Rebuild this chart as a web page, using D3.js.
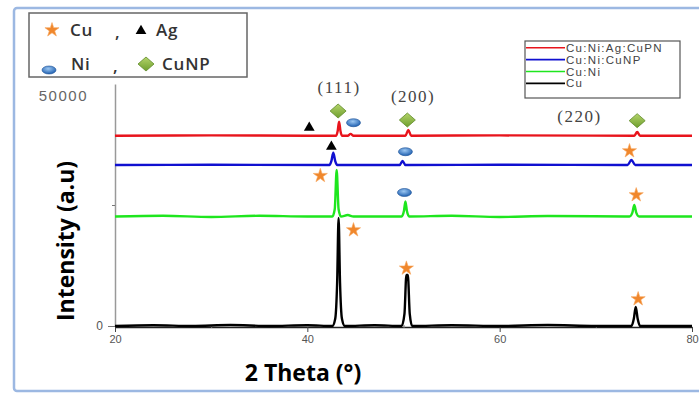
<!DOCTYPE html>
<html>
<head>
	<meta charset="utf-8">
	<title>XRD patterns</title>
	<style>
		body{ margin:0; background:white; }
		svg{ display:block; }
		.tick text{ font-family:"Liberation Sans",Arial,sans-serif; font-size:11px; fill:#555; }
		.lg1{ font-family:"Open Sans",sans-serif; font-size:17px; font-weight:600; fill:#333; letter-spacing:0.8px; }
		.lg2{ font-family:"Liberation Sans",Arial,sans-serif; font-size:11.5px; fill:#444; letter-spacing:1.3px; }
		.hkl{ font-family:"Liberation Serif","Times New Roman",serif; font-size:17px; fill:#444; letter-spacing:1.5px; }
		.atitle{ font-family:"Open Sans",sans-serif; font-size:23px; font-weight:bold; fill:#000; }
	</style>
	<script src="https://cdn.jsdelivr.net/npm/d3@7"></script>
</head>
<body>
<svg width="699" height="394"></svg>
<script>
// series names / colours (legend order)
var names = ["Cu:Ni:Ag:CuPN", "Cu:Ni:CuNP", "Cu:Ni", "Cu"];
var colors = ["#e8141c", "#1010d0", "#1ee61e", "#000000"];
// vertical offset of each pattern (a.u.)
var offsets = [39320, 33260, 22620, 0];

// [2theta, intensity]
var redData = [[20,0],[30,60],[40,0],[43.0,0],[43.15,900],[43.3,2890],[43.45,900],[43.6,0],[44.2,0],[44.5,380],[44.8,0],[50.2,0],[50.5,1180],[50.8,0],[60,60],[74.0,0],[74.3,760],[74.6,0],[80,0]];
var blueData = [[20,0],[30,50],[42.3,0],[42.5,800],[42.7,2540],[42.9,800],[43.1,0],[49.6,0],[49.9,830],[50.2,0],[60,50],[73.3,0],[73.7,1030],[74.1,0],[80,0]];
var greenData = [[20,0],[25,150],[30,-100],[35,150],[40,0],[42.6,0],[42.85,1500],[43.05,9600],[43.25,1500],[43.5,0],[44.2,310],[44.8,0],[49.8,0],[50.05,1200],[50.2,3100],[50.35,1200],[50.6,0],[55,150],[60,-100],[65,100],[73.5,0],[73.8,800],[74.0,2380],[74.2,800],[74.5,0],[80,0]];
var cuData = [[20,0],[24,150],[28,0],[32,200],[36,0],[40,150],[42.6,0],[42.9,1500],[43.1,9000],[43.25,22310],[43.4,9000],[43.6,1500],[43.9,0],[47,150],[49.8,0],[50.1,2500],[50.3,10540],[50.45,10540],[50.65,2500],[50.9,0],[55,150],[60,0],[65,200],[70,0],[73.7,0],[73.95,1500],[74.15,3930],[74.35,1500],[74.6,0],[80,0]];
var allData = [redData, blueData, greenData, cuData];

// phase markers [2theta, intensity]
var starPts = [[41.35,31050],[44.8,19830],[50.3,11920],[73.5,36160],[74.2,27070],[74.4,5580]];
var niPts = [[44.8,42000],[50.2,36010],[50.1,27580]];
var agPts = [[40.2,41180],[42.5,37250]];
var cunpPts = [[43.2,44420],[50.4,42560],[74.3,42420]];

// miller index labels
var hklLabels = [["(111)",43.3,48200],["(200)",51.0,46200],["(220)",68.3,42100]];

var xTicks = [20, 40, 60, 80];
var xMinor = [30, 50, 70];

var svg = d3.select("svg");

// outer frame
svg.append("rect")
	.attr("x",14).attr("y",8).attr("width",700).attr("height",383)
	.attr("rx",3)
	.attr("fill","none").attr("stroke","#9cb8e2").attr("stroke-width",2.5);

var x = d3.scaleLinear().domain([20,80]).range([115,692]);
var y = d3.scaleLinear().domain([0,50000]).range([326,84]);

var defs = svg.append("defs");
var eg = defs.append("radialGradient").attr("id","ellg").attr("cx","45%").attr("cy","35%").attr("r","65%");
eg.append("stop").attr("offset","0%").attr("stop-color","#9cc7f2");
eg.append("stop").attr("offset","100%").attr("stop-color","#1e5fb0");
var dg = defs.append("linearGradient").attr("id","diag").attr("x1","0").attr("y1","0").attr("x2","0").attr("y2","1");
dg.append("stop").attr("offset","0%").attr("stop-color","#b4d46a");
dg.append("stop").attr("offset","100%").attr("stop-color","#6e9e2e");

// y axis
var yAxis = svg.append("g")
	.attr("transform","translate(115,0)")
	.call(d3.axisLeft(y).tickValues([0,25000]).tickSizeOuter(0).tickFormat(function(d){ return d==0 ? "0" : ""; }));
yAxis.select(".domain").attr("stroke","#999").attr("stroke-width",1.5);
yAxis.selectAll(".tick line").attr("stroke","#777").attr("x2",function(d){ return d==0 ? -7 : -3; });
yAxis.selectAll(".tick text").attr("x",-12).style("font-size","12px");
svg.append("text")
	.attr("x",88).attr("y",y(50000)+17)
	.attr("text-anchor","end")
	.style("font-family","Liberation Sans,Arial,sans-serif")
	.style("font-size","15px").style("letter-spacing","1.5px").style("fill","#666")
	.text("50000");

// x axis
var xAxis = svg.append("g")
	.attr("transform","translate(0,327)")
	.call(d3.axisBottom(x).tickValues(xTicks).tickSize(5).tickSizeOuter(0));
xAxis.select(".domain").attr("stroke","#222").attr("stroke-width",1.5);
xAxis.selectAll(".tick line").attr("stroke","#444");
xAxis.selectAll(".tick text").attr("y",8);
var xMin = svg.append("g")
	.attr("transform","translate(0,328)")
	.call(d3.axisBottom(x).tickValues(xMinor).tickSize(-3).tickFormat(""));
xMin.select(".domain").remove();
xMin.selectAll(".tick line").attr("stroke","#777");

// patterns
var line = d3.line()
	.curve(d3.curveMonotoneX);

allData.forEach(function(ser, i){
	line.x(function(d){ return x(d[0]); })
	    .y(function(d){ return y(d[1] + offsets[i]); });
	svg.append("path")
		.datum(ser)
		.attr("d",line)
		.attr("fill","none")
		.attr("stroke",colors[i])
		.attr("stroke-width", i==3 ? 2.4 : 2.4)
		.attr("stroke-linejoin","round");
});

// markers
var starSym = d3.symbol().type(d3.symbolStar).size(62);
var triSym = d3.symbol().type(d3.symbolTriangle).size(50);
var diamond = "M0,-7L8,0L0,7L-8,0Z";

function drawStar(g, px, py){
	g.append("path").attr("d",starSym()).attr("transform","translate("+px+","+py+")")
		.attr("fill","#f0872c").attr("stroke","#f6a55a").attr("stroke-width",0.6);
}
function drawNi(g, px, py){
	g.append("ellipse").attr("cx",px).attr("cy",py).attr("rx",7).attr("ry",4)
		.attr("fill","url(#ellg)").attr("stroke","#1a4f96").attr("stroke-width",0.6);
}
function drawAg(g, px, py){
	g.append("path").attr("d",triSym()).attr("transform","translate("+px+","+(py+1)+")").attr("fill","#000");
}
function drawCuNP(g, px, py){
	g.append("path").attr("d",diamond).attr("transform","translate("+px+","+py+")")
		.attr("fill","url(#diag)").attr("stroke","#5f8a2a").attr("stroke-width",0.8);
}

var mk = svg.append("g");
starPts.forEach(function(d){ drawStar(mk, x(d[0]), y(d[1])); });
niPts.forEach(function(d){ drawNi(mk, x(d[0]), y(d[1])); });
agPts.forEach(function(d){ drawAg(mk, x(d[0]), y(d[1])); });
cunpPts.forEach(function(d){ drawCuNP(mk, x(d[0]), y(d[1])); });

svg.selectAll(".hkl")
	.data(hklLabels).enter().append("text")
	.attr("class","hkl")
	.attr("x",function(d){ return x(d[1]); })
	.attr("y",function(d){ return y(d[2]); })
	.attr("text-anchor","middle")
	.text(function(d){ return d[0]; });

// phase legend (top left)
var lg1 = svg.append("g");
lg1.append("rect").attr("x",29).attr("y",13).attr("width",218).attr("height",64)
	.attr("fill","white").attr("stroke","#666").attr("stroke-width",1.5);
drawStar(lg1, 52, 30);
lg1.append("text").attr("class","lg1").attr("x",70).attr("y",36).text("Cu");
lg1.append("text").attr("class","lg1").attr("x",115).attr("y",38).text(",");
drawAg(lg1, 141, 30);
lg1.append("text").attr("class","lg1").attr("x",156).attr("y",36).text("Ag");
drawNi(lg1, 49, 70);
lg1.append("text").attr("class","lg1").attr("x",71).attr("y",70).text("Ni");
lg1.append("text").attr("class","lg1").attr("x",113).attr("y",72).text(",");
drawCuNP(lg1, 146, 64);
lg1.append("text").attr("class","lg1").attr("x",162).attr("y",70).text("CuNP");

// series legend (top right)
var lg2 = svg.append("g");
lg2.append("rect").attr("x",525).attr("y",41).attr("width",155).attr("height",57)
	.attr("fill","white").attr("stroke","#555").attr("stroke-width",1.2);
names.forEach(function(n, i){
	var ly = 47.7 + i*11.9;
	lg2.append("line").attr("x1",526).attr("x2",565).attr("y1",ly).attr("y2",ly)
		.attr("stroke",colors[i]).attr("stroke-width",1.6);
	lg2.append("text").attr("class","lg2").attr("x",566).attr("y",ly+4).text(n);
});

// axis titles
svg.append("text").attr("class","atitle")
	.attr("x",303).attr("y",381)
	.attr("text-anchor","middle")
	.text("2 Theta (°)");
svg.append("text").attr("class","atitle")
	.attr("transform","translate(74,241) rotate(-90)")
	.attr("text-anchor","middle")
	.text("Intensity (a.u)");
</script>
</body>
</html>
